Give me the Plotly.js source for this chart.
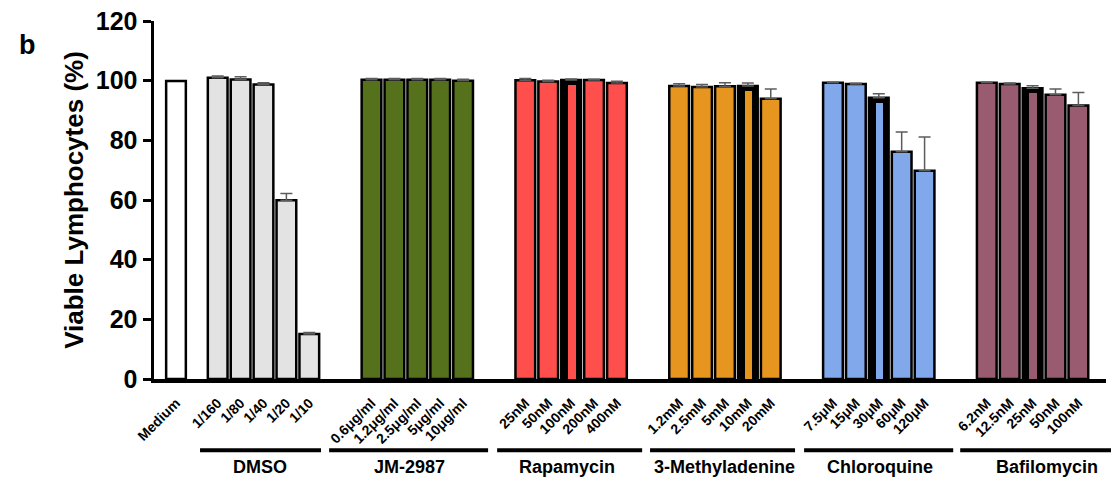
<!DOCTYPE html>
<html>
<head>
<meta charset="utf-8">
<script src="https://cdn.plot.ly/plotly-3.0.1.min.js"></script>
<style>html,body{margin:0;padding:0;background:#fff;}#chart{width:1111px;height:479px;}</style>
</head>
<body>
<div id="chart"></div>
<script>
// ---------- data ----------
const mediumLabel = 'Medium';
const mediumValue = 99.9;

const groupNames = ['DMSO', 'JM-2987', 'Rapamycin', '3-Methyladenine', 'Chloroquine', 'Bafilomycin'];

const dmsoLabels = ['1/160', '1/80', '1/40', '1/20', '1/10'];
const dmsoValues = [101.0, 100.4, 98.7, 59.9, 15.1];
const dmsoErrors = [0.6, 0.9, 0.6, 2.3, 0.5];

const jmLabels = ['0.6μg/ml', '1.2μg/ml', '2.5μg/ml', '5μg/ml', '10μg/ml'];
const jmValues = [100.3, 100.3, 100.3, 100.3, 100.0];
const jmErrors = [0.4, 0.4, 0.4, 0.4, 0.5];

const rapaLabels = ['25nM', '50nM', '100nM', '200nM', '400nM'];
const rapaValues = [100.1, 99.7, 100.2, 100.2, 99.2];
const rapaErrors = [0.6, 0.4, 0.4, 0.3, 0.6];

const mtaLabels = ['1.2mM', '2.5mM', '5mM', '10mM', '20mM'];
const mtaValues = [98.2, 97.9, 98.1, 98.2, 93.9];
const mtaErrors = [0.8, 0.8, 1.2, 1.0, 3.3];

const cqLabels = ['7.5μM', '15μM', '30μM', '60μM', '120μM'];
const cqValues = [99.3, 98.9, 94.3, 76.2, 69.8];
const cqErrors = [0.2, 0.2, 1.3, 6.6, 11.3];

const bafLabels = ['6.2nM', '12.5nM', '25nM', '50nM', '100nM'];
const bafValues = [99.3, 98.9, 97.5, 95.3, 91.7];
const bafErrors = [0.2, 0.3, 0.8, 1.9, 4.3];

// bars that appear filled black with a narrow coloured core (group index, bar index, core top)
const darkBarGroup = [2, 3, 4, 5];
const darkBarIndex = [2, 3, 2, 2];
const darkBarCore = [98.5, 96.6, 92.5, 95.9];

// ---------- styling / layout ----------
const groupLabels = [dmsoLabels, jmLabels, rapaLabels, mtaLabels, cqLabels, bafLabels];
const groupValues = [dmsoValues, jmValues, rapaValues, mtaValues, cqValues, bafValues];
const groupErrors = [dmsoErrors, jmErrors, rapaErrors, mtaErrors, cqErrors, bafErrors];
const groupColors = ['#e3e3e3', '#56711b', '#fe4f4d', '#e6951f', '#80a8eb', '#985b70'];

const GROUP_START = 1.82, GROUP_PERIOD = 6.715;
const XMIN = -0.96, XMAX = 40.6;
const BAR_W = 0.86;
const pos = (g, i) => GROUP_START + GROUP_PERIOD * g + i;

const lineSpans = [[-0.77, 4.51], [-1.85, 5.09], [-1.23, 5.10], [-1.27, 5.06], [-1.26, 5.25], [-1.16, 5.45]];
const labelOffsets = [1.85, 1.68, 1.82, 1.96, 2.06, 2.63];

const errStyle = {color: '#5c5c5c', thickness: 1.5, width: 6};
const FONT = 'Liberation Sans, Arial, sans-serif';

const traces = [];
traces.push({
  type: 'bar', x: [0], y: [mediumValue], width: BAR_W,
  marker: {color: '#ffffff', line: {color: '#000', width: 2.5}},
  hoverinfo: 'y', showlegend: false
});

const tickvals = [0], ticktext = [mediumLabel];
groupNames.forEach((name, g) => {
  const xs = groupValues[g].map((v, i) => pos(g, i));
  const colors = groupValues[g].map(() => groupColors[g]);
  darkBarGroup.forEach((dg, k) => { if (dg === g) colors[darkBarIndex[k]] = '#000000'; });
  traces.push({
    type: 'bar', name: name, x: xs, y: groupValues[g], width: BAR_W,
    marker: {color: colors, line: {color: '#000', width: 2.5}},
    error_y: Object.assign({type: 'data', symmetric: false, array: groupErrors[g],
      arrayminus: groupErrors[g].map(() => 0)}, errStyle),
    showlegend: false
  });
  groupLabels[g].forEach((t, i) => { tickvals.push(xs[i]); ticktext.push(t); });
});

// narrow coloured cores of the dark bars
traces.push({
  type: 'bar',
  x: darkBarGroup.map((g, k) => pos(g, darkBarIndex[k]) + 0.03),
  y: darkBarCore, width: 0.34,
  marker: {color: darkBarGroup.map(g => groupColors[g]), line: {width: 0}},
  hoverinfo: 'skip', showlegend: false
});

const toPaper = v => (v - XMIN) / (XMAX - XMIN);
const shapes = groupNames.map((n, g) => ({
  type: 'line', xref: 'paper', yref: 'paper',
  x0: toPaper(pos(g, 0) + lineSpans[g][0]), x1: toPaper(pos(g, 0) + lineSpans[g][1]),
  y0: -0.199, y1: -0.199, line: {color: '#000', width: 4}
}));

const annotations = groupNames.map((n, g) => ({
  text: n, xref: 'x', yref: 'paper', x: pos(g, 0) + labelOffsets[g], y: -0.247,
  showarrow: false, xanchor: 'center', yanchor: 'middle',
  font: {family: FONT, size: 18, color: '#000', weight: 'bold'}
}));
annotations.push({
  text: 'b', xref: 'paper', yref: 'paper', x: -0.133, y: 0.933,
  showarrow: false, xanchor: 'center', yanchor: 'middle',
  font: {family: FONT, size: 27, color: '#000', weight: 'bold'}
});

const layout = {
  width: 1111, height: 479,
  margin: {l: 154, r: 5, t: 21, b: 99.5, pad: 0},
  paper_bgcolor: '#fff', plot_bgcolor: '#fff',
  barmode: 'overlay', bargap: 0,
  showlegend: false,
  xaxis: {
    range: [XMIN, XMAX], tickmode: 'array', tickvals: tickvals, ticktext: ticktext,
    tickangle: -45, ticks: 'outside', ticklen: 7, tickcolor: 'rgba(0,0,0,0)',
    showline: true, linecolor: '#000', linewidth: 3.5, showgrid: false, zeroline: false,
    tickfont: {family: FONT, size: 14, color: '#000', weight: 'bold'},
    automargin: false
  },
  yaxis: {
    range: [0, 120], tickvals: [0, 20, 40, 60, 80, 100, 120],
    ticks: 'outside', ticklen: 8, tickwidth: 3, tickcolor: '#000',
    showline: true, linecolor: '#000', linewidth: 3.5, showgrid: false, zeroline: false,
    tickfont: {family: FONT, size: 25, color: '#000', weight: 'bold'},
    title: {text: 'Viable Lymphocytes (%)', standoff: 5,
      font: {family: FONT, size: 26, color: '#000', weight: 'bold'}},
    automargin: false
  },
  shapes: shapes,
  annotations: annotations
};

Plotly.newPlot('chart', traces, layout, {displayModeBar: false, staticPlot: true});
</script>
</body>
</html>
